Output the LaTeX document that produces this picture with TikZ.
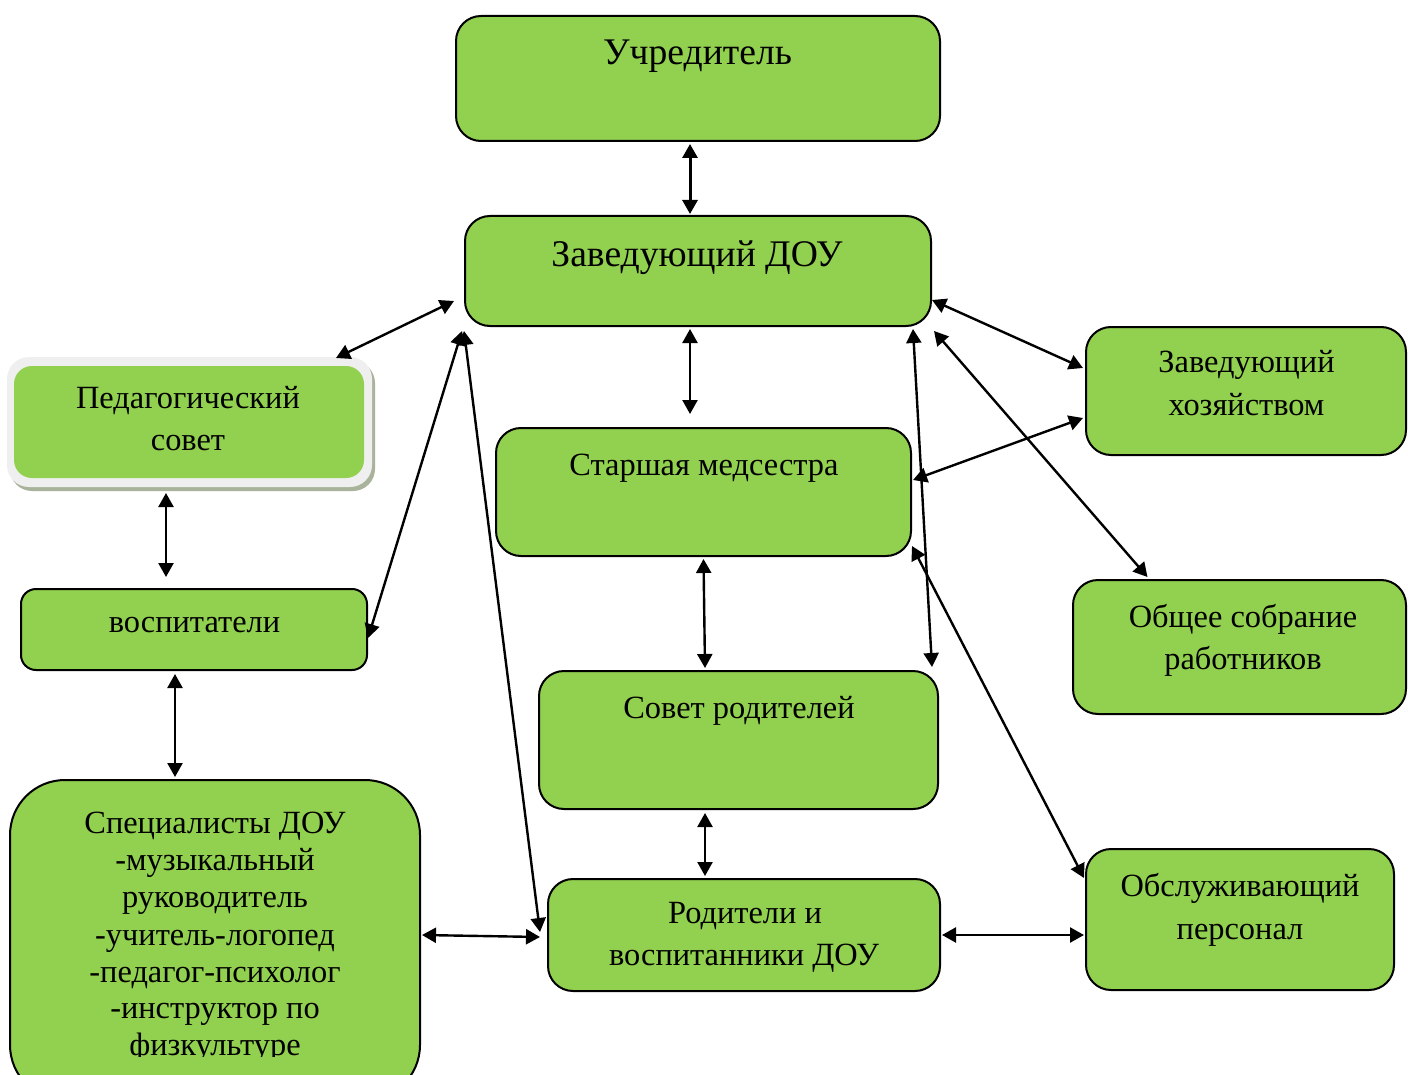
\documentclass[tikz,border=0pt]{standalone}
\usepackage{fontspec}
\setmainfont{Liberation Serif}
\usetikzlibrary{arrows.meta,calc}
\definecolor{gr}{HTML}{92D050}
\definecolor{shadowc}{HTML}{A9B39B}
\definecolor{rimc}{HTML}{EFEFEF}
\begin{document}
\begin{tikzpicture}[x=1pt,y=-1pt,
 box/.style={draw=black,line width=2pt,fill=gr,rounded corners=25pt,inner sep=0pt},
 lbl/.style={font=\fontsize{32.4}{40}\selectfont,inner sep=0pt,anchor=base},
 biglbl/.style={lbl,font=\fontsize{37.6}{44}\selectfont},
 link/.style={line width=2.4pt,{Triangle[length=14pt,width=15pt]}-{Triangle[length=14pt,width=15pt]}}]
\useasboundingbox (0,0) rectangle (1408,1075);
\clip (0,0) rectangle (1408,1075);
% boxes
\node[box,minimum width=484pt,minimum height=125pt] (ucr) at (698,78.5) {};
\node[box,minimum width=466pt,minimum height=110pt] (zav) at (698,271) {};
\fill[shadowc,rounded corners=22pt] (10,361) rectangle (375,491);
\fill[rimc,rounded corners=22pt] (7,357) rectangle (372,487);
\node[box,draw=none,minimum width=350pt,minimum height=112pt,rounded corners=18pt] (ped) at (189,422) {};
\node[box,minimum width=346pt,minimum height=81pt,rounded corners=15pt] (vos) at (194,629.5) {};
\node[box,minimum width=410pt,minimum height=320pt,rounded corners=55pt] (spec) at (215,940) {};
\node[box,minimum width=415pt,minimum height=128pt] (star) at (703.5,492) {};
\node[box,minimum width=399pt,minimum height=138pt] (sov) at (738.5,740) {};
\node[box,minimum width=392pt,minimum height=112pt] (rod) at (744,935) {};
\node[box,minimum width=320pt,minimum height=128pt] (zh) at (1246,391) {};
\node[box,minimum width=333pt,minimum height=134pt] (obs) at (1239.5,647) {};
\node[box,minimum width=308pt,minimum height=141pt] (obsl) at (1240,919.5) {};
% texts
\node[biglbl] (t1) at (697.5,65) {Учредитель};
\node[biglbl] (t2) at (697,267) {Заведующий ДОУ};
\node[lbl] (t3a) at (188,408) {Педагогический};
\node[lbl] (t3b) at (188,450) {совет};
\node[lbl] (t4) at (194.5,632) {воспитатели};
\node[lbl] (t5a) at (215,833) {Специалисты ДОУ};
\node[lbl] (t5b) at (215,870) {-музыкальный};
\node[lbl] (t5c) at (215,907) {руководитель};
\node[lbl] (t5d) at (215,945) {-учитель-логопед};
\node[lbl] (t5e) at (215,982) {-педагог-психолог};
\node[lbl] (t5f) at (215,1018) {-инструктор по};
\begin{scope}
\clip (0,0) rectangle (1408,1056);
\node[lbl] (t5g) at (215,1055) {физкультуре};
\end{scope}
\node[lbl] (t6) at (704,475) {Старшая медсестра};
\node[lbl] (t7) at (739,718) {Совет родителей};
\node[lbl] (t8a) at (745,923) {Родители и};
\node[lbl] (t8b) at (744,965) {воспитанники ДОУ};
\node[lbl] (t9a) at (1246.5,372) {Заведующий};
\node[lbl] (t9b) at (1246.5,415) {хозяйством};
\node[lbl] (t10a) at (1243,627) {Общее собрание};
\node[lbl] (t10b) at (1243,669) {работников};
\node[lbl] (t11a) at (1240,896) {Обслуживающий};
\node[lbl] (t11b) at (1240,939) {персонал};
% connectors
\draw[link,line width=3pt] ($(ucr.south)+(-8,2)$) -- ($(zav.north)+(-8,-1)$);
\draw[link] ($(zav.west)+(-10,30)$) -- ($(ped.north east)+(-29,-7)$);
\draw[link] ($(ped.south)+(-23,14)$) -- ($(vos.north)+(-28,-11)$);
\draw[link] ($(vos.south)+(-19,3)$) -- ($(spec.north)+(-40,-2)$);
\draw[link] ($(zav.south west)+(-2,4)$) -- ($(vos.east)+(0,8.5)$);
\draw[link] ($(zav.south west)+(0,4)$) -- ($(rod.west)+(-7,-3)$);
\draw[link] ($(zav.south)+(-8,2)$) -- ($(star.north)+(-13.5,-13)$);
\draw[link] ($(zav.east)+(0,29)$) -- ($(zh.west)+(-2,-23)$);
\draw[link] ($(zav.south east)+(2,4)$) -- ($(obs.north)+(-92,-2)$);
\draw[link] ($(zav.south east)+(-19,2)$) -- ($(sov.north east)+(-7,-3)$);
\draw[link] ($(star.east)+(1,-12)$) -- ($(zh.west)+(-2,27)$);
\draw[link] ($(star.south east)+(0,-11)$) -- ($(obsl.west)+(-1,-41.5)$);
\draw[link] ($(star.south)+(0,2)$) -- ($(sov.north)+(-33.5,-2)$);
\draw[link] ($(sov.south)+(-33.5,3)$) -- ($(rod.north)+(-39,-2)$);
\draw[link] ($(spec.east)+(1,-5)$) -- ($(rod.west)+(-7,2)$);
\draw[link] ($(rod.east)+(1,0)$) -- ($(obsl.west)+(-1,15.5)$);
\end{tikzpicture}
\end{document}
